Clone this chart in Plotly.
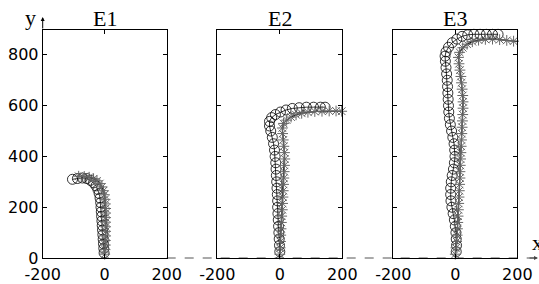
import plotly.graph_objects as go

W, H = 539, 284

panels = ["E1", "E2", "E3"]
x_ticks = [-200, 0, 200]
y_ticks = [0, 200, 400, 600, 800]

# E1
e1_circ_x = [-2, -3, -4, -5, -6, -7, -8, -9, -10, -11, -12, -13, -15, -18, -22, -28, -36, -46, -58, -72, -88, -104]
e1_circ_y = [20, 38, 56, 74, 92, 110, 128, 146, 164, 182, 200, 218, 236, 254, 270, 284, 296, 306, 313, 315, 313, 310]
e1_star_x = [0, 1, 2, 2, 3, 3, 3, 3, 3, 3, 3, 2, 1, -1, -4, -9, -16, -25, -36, -50, -66, -84]
e1_star_y = [15, 33, 51, 69, 87, 105, 123, 141, 159, 177, 195, 213, 231, 249, 265, 280, 293, 304, 312, 318, 321, 322]

# E2
e2_circ_x = [0, -1, -2, -3, -4, -5, -6, -7, -7, -8, -9, -10, -11, -12, -13, -15, -17, -20, -24, -29, -33, -33, -26, -14, 2, 20, 40, 62, 85, 108, 130, 145]
e2_circ_y = [25, 50, 75, 100, 125, 150, 175, 200, 225, 250, 275, 300, 325, 350, 375, 400, 425, 450, 475, 500, 520, 538, 553, 565, 575, 583, 589, 592, 594, 594, 594, 594]
e2_star_x = [0, 1, 2, 3, 4, 5, 6, 8, 9, 10, 11, 12, 13, 14, 15, 16, 15, 13, 11, 9, 8, 12, 22, 36, 52, 70, 90, 112, 135, 158, 180, 198]
e2_star_y = [15, 40, 65, 90, 115, 140, 165, 190, 215, 240, 265, 290, 315, 340, 365, 390, 415, 440, 465, 490, 512, 530, 543, 555, 564, 570, 574, 577, 578, 579, 579, 578]

# E3
e3_circ_x = [3, 4, 3, 2, 0, -3, -7, -11, -14, -15, -15, -13, -10, -6, -3, -1, -2, -4, -8, -12, -16, -19, -21, -22, -23, -24, -25, -26, -28, -30, -32, -33, -30, -22, -10, 5, 22, 40, 60, 80, 100, 120, 138]
e3_circ_y = [25, 50, 75, 100, 125, 150, 175, 200, 225, 250, 275, 300, 325, 350, 375, 400, 425, 450, 475, 500, 525, 550, 575, 600, 625, 650, 675, 700, 725, 750, 775, 795, 812, 830, 848, 862, 873, 879, 881, 881, 881, 881, 881]
e3_star_x = [0, 2, 4, 6, 7, 8, 9, 10, 11, 12, 13, 14, 15, 15, 16, 17, 18, 19, 20, 21, 22, 23, 24, 25, 25, 24, 22, 20, 18, 15, 12, 10, 14, 24, 38, 55, 75, 97, 120, 143, 166, 188, 206]
e3_star_y = [15, 40, 65, 90, 115, 140, 165, 190, 215, 240, 265, 290, 315, 340, 365, 390, 415, 440, 465, 490, 515, 540, 565, 590, 615, 640, 665, 690, 715, 740, 765, 790, 810, 828, 842, 852, 858, 861, 862, 860, 857, 854, 852]

circ = [(e1_circ_x, e1_circ_y), (e2_circ_x, e2_circ_y), (e3_circ_x, e3_circ_y)]
star = [(e1_star_x, e1_star_y), (e2_star_x, e2_star_y), (e3_star_x, e3_star_y)]

# layout in pixels
x_px = [(42.7, 166.7), (217.3, 342.3), (393.3, 517.3)]
y_top, y_bot = 30, 258

fig = go.Figure()
for i in range(3):
    xa = "x" if i == 0 else f"x{i+1}"
    ya = "y" if i == 0 else f"y{i+1}"
    cx, cy = circ[i]
    sx, sy = star[i]
    fig.add_trace(go.Scatter(x=cx, y=cy, xaxis=xa, yaxis=ya, mode="lines+markers",
                             line=dict(color="black", width=0.8),
                             marker=dict(symbol="circle-open", size=10, color="black",
                                         line=dict(width=0.8, color="black")),
                             cliponaxis=False, showlegend=False, hoverinfo="skip"))
    fig.add_trace(go.Scatter(x=sx, y=sy, xaxis=xa, yaxis=ya, mode="lines+markers",
                             line=dict(color="black", width=1.2),
                             marker=dict(symbol="asterisk-open", size=9, color="#666666",
                                         line=dict(width=1, color="#666666")),
                             cliponaxis=False, showlegend=False, hoverinfo="skip"))

common_x = dict(range=[-200, 200], tickvals=x_ticks, ticktext=[str(v) for v in x_ticks],
                ticks="inside", ticklen=4, tickcolor="black", showline=True, linecolor="black",
                linewidth=1, mirror="ticks", showgrid=False, zeroline=False, automargin=False,
                ticklabelstandoff=2,
                tickfont=dict(family="DejaVu Sans", size=16, color="black"))
common_y = dict(range=[0, 898], tickvals=y_ticks, ticks="inside", ticklen=4, tickcolor="black",
                showline=True, linecolor="black", linewidth=1, mirror="ticks", showgrid=False,
                zeroline=False, automargin=False,
                tickfont=dict(family="DejaVu Sans", size=16, color="black"))

ydom = [1 - y_bot / H, 1 - y_top / H]
layout = dict(width=W, height=H, margin=dict(l=0, r=0, t=0, b=0, autoexpand=False),
              paper_bgcolor="white", plot_bgcolor="white")
for i in range(3):
    xk = "xaxis" if i == 0 else f"xaxis{i+1}"
    yk = "yaxis" if i == 0 else f"yaxis{i+1}"
    xd = [x_px[i][0] / W, x_px[i][1] / W]
    layout[xk] = dict(common_x, domain=xd, anchor="y" if i == 0 else f"y{i+1}")
    layout[yk] = dict(common_y, domain=ydom, anchor="x" if i == 0 else f"x{i+1}",
                      showticklabels=(i == 0))
fig.update_layout(**layout)

ann = []
for i, name in enumerate(panels):
    ann.append(dict(text=name, x=(x_px[i][0] + x_px[i][1]) / 2 / W, y=1 - 18.5 / H,
                    xref="paper", yref="paper", showarrow=False, xanchor="center",
                    yanchor="middle", font=dict(family="Liberation Serif", size=22, color="black")))
# axis labels
ann.append(dict(text="y", x=30 / W, y=1 - 17 / H, xref="paper", yref="paper", showarrow=False,
                xanchor="center", yanchor="middle",
                font=dict(family="Liberation Serif", size=22, color="black")))
ann.append(dict(text="", x=42.7 / W, y=1 - 17 / H, xref="paper", yref="paper", showarrow=True,
                ax=0, ay=13, arrowhead=2, arrowsize=0.8, arrowwidth=1, arrowcolor="black"))
ann.append(dict(text="x", x=537 / W, y=1 - 242 / H, xref="paper", yref="paper", showarrow=False,
                xanchor="center", yanchor="middle",
                font=dict(family="Liberation Serif", size=22, color="black")))
ann.append(dict(text="", x=538 / W, y=1 - y_bot / H, xref="paper", yref="paper", showarrow=True,
                ax=-10, ay=0, arrowhead=2, arrowsize=0.8, arrowwidth=1, arrowcolor="#444444"))
fig.update_layout(annotations=ann)

fig.add_shape(type="line", xref="paper", yref="paper", x0=166.7 / W, x1=534 / W,
              y0=1 - y_bot / H, y1=1 - y_bot / H, line=dict(color="#555555", width=1, dash="dash"),
              layer="below")

fig.write_html("out.html", config={"displayModeBar": False},
               post_script="document.body.style.margin='0';")
